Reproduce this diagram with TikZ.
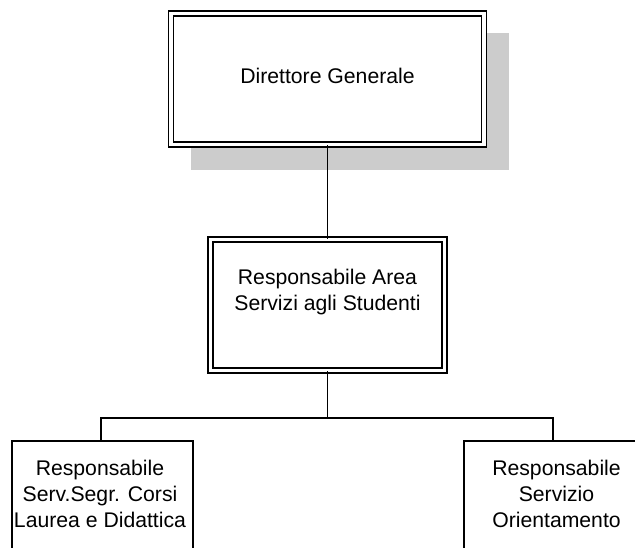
\documentclass[tikz,border=0pt]{standalone}
\usepackage{fontspec}
\setmainfont{Liberation Sans}
\begin{document}
\begin{tikzpicture}[x=1pt,y=-1pt,
  boxtext/.style={align=center,inner sep=0pt,font=\fontsize{21.2}{26}\selectfont},
  dblbox/.style={draw=black,line width=1.4pt,double=white,double distance=3.6pt,fill=white,
    minimum width=313pt,minimum height=131pt,inner sep=0pt},
  plainbox/.style={draw=black,line width=1.5pt,fill=white,inner sep=0pt},
  shadowbox/.style={fill=black!20,draw=none,inner sep=0pt},
  link/.style={draw=black,line width=1.1pt}]
\useasboundingbox (0,0) rectangle (635,547);
\clip (0,0) rectangle (635,547);

% top box with its grey shadow
\node[shadowbox,minimum width=318pt,minimum height=137pt] (shadow) at (350,101.5) {};
\node[dblbox] (dg) at (327.5,79) {};
\node[boxtext] (dgtext) at (327.5,76) {Direttore Generale};

% middle box
\node[dblbox,minimum width=234pt] (ra) at (327.5,305) {};
\node[boxtext] (ratext) at (327.5,292) {Responsabile Area\\Servizi agli Studenti};

% bottom boxes (running past the lower edge)
\node[plainbox,minimum width=181pt,minimum height=160pt,anchor=north west] (sl) at (11,440) {};
\node[boxtext] (sltext) at (100,494) {Responsabile\\Serv.Segr. Corsi\\Laurea e Didattica};
\node[plainbox,minimum width=200pt,minimum height=160pt,anchor=north west] (sr) at (463,440) {};
\node[boxtext] (srtext) at (556.5,494) {Responsabile\\Servizio\\Orientamento};

% connectors
\coordinate (fork) at (327.5,418);
\coordinate (slin) at (101,440);
\coordinate (srin) at (553,440);
\draw[link] (dg.south) -- (ra.north);
\draw[link] (ra.south) -- (fork);
\draw[link] (slin) |- (fork) -| (srin);
\end{tikzpicture}
\end{document}
